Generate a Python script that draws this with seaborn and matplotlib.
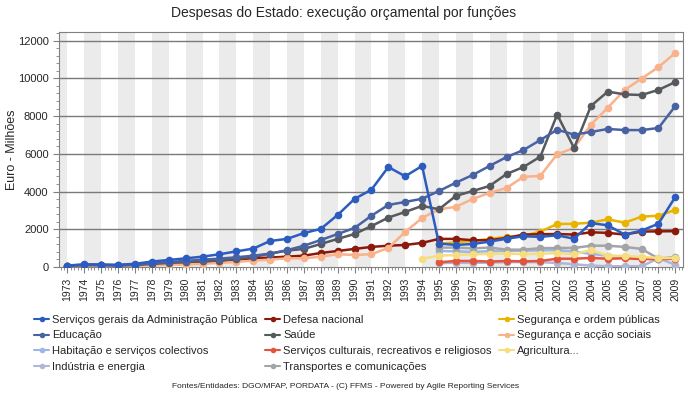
import matplotlib
matplotlib.use("Agg")
import matplotlib.pyplot as plt
from matplotlib.lines import Line2D
from matplotlib.ticker import MultipleLocator
import numpy as np
import pandas as pd
import seaborn as sns

# ===== Données =====
anos = list(range(1973, 2010))
nan = np.nan

servicos_gerais = [80, 140, 130, 120, 170, 290, 375, 460, 550, 675, 830, 975, 1380, 1490, 1800, 2020, 2760,
                   3610, 4100, 5300, 4810, 5360, 1240, 1170, 1220, 1345, 1500, 1630, 1600, 1680, 1500, 2330,
                   2210, 1720, 1930, 2300, 3720]
educacao = [70, 120, 110, 90, 130, 200, 270, 320, 390, 445, 515, 600, 710, 890, 1130, 1430, 1750,
            2070, 2720, 3290, 3450, 3620, 4030, 4470, 4880, 5360, 5830, 6200, 6730, 7280, 7020, 7160,
            7320, 7260, 7260, 7370, 8540]
habitacao = [nan] * 22 + [850, 830, 800, 840, 850, 870, 880, 890, 815, 700, 600, 520, 450, 420, 480]
industria = [nan] * 22 + [200, 230, 220, 230, 260, 260, 260, 215, 145, 75, 40, 40, 40, 460, 120]
defesa = [60, 110, 110, 80, 100, 130, 165, 200, 250, 300, 390, 460, 500, 550, 600, 745, 850,
          960, 1065, 1130, 1170, 1280, 1490, 1490, 1420, 1420, 1540, 1720, 1740, 1750, 1720, 1840,
          1810, 1720, 1880, 1890, 1900]
saude = [60, 100, 100, 80, 110, 160, 220, 270, 310, 340, 430, 535, 710, 870, 960, 1220, 1490,
         1750, 2170, 2620, 2920, 3240, 3060, 3770, 4030, 4300, 4930, 5300, 5850, 8080, 6310, 8540,
         9300, 9150, 9120, 9390, 9810]
culturais = [nan] * 22 + [250, 320, 320, 290, 320, 300, 320, 440, 440, 480, 440, 460, 420, 420, 440]
transportes = [nan] * 22 + [1030, 1030, 990, 1030, 920, 920, 1000, 1010, 1010, 1130, 1130, 1065, 960, 445, 535]
seg_ordem = [nan] * 22 + [1240, 1310, 1380, 1490, 1600, 1650, 1880, 2280, 2290, 2350, 2530, 2350, 2670, 2720, 3030]
seg_sociais = [40, 70, 70, 50, 70, 90, 120, 130, 170, 215, 270, 340, 390, 460, 460, 550, 675,
               640, 680, 1010, 1860, 2600, 3060, 3190, 3610, 3930, 4190, 4780, 4830, 5980, 6310, 7550,
               8450, 9390, 9990, 10600, 11350]
agricultura = [nan] * 21 + [440, 600, 640, 675, 690, 710, 690, 700, 745, 680, 890, 600, 590, 535, 480, 480]

series = {
    'Serviços gerais da Administração Pública': servicos_gerais,
    'Educação': educacao,
    'Habitação e serviços colectivos': habitacao,
    'Indústria e energia': industria,
    'Defesa nacional': defesa,
    'Saúde': saude,
    'Serviços culturais, recreativos e religiosos': culturais,
    'Transportes e comunicações': transportes,
    'Segurança e ordem públicas': seg_ordem,
    'Segurança e acção sociais': seg_sociais,
    'Agricultura...': agricultura,
}
couleurs = {
    'Serviços gerais da Administração Pública': '#2c5cc0',
    'Educação': '#4862a2',
    'Habitação e serviços colectivos': '#9cb6e6',
    'Indústria e energia': '#b0b6d6',
    'Defesa nacional': '#8c1a0c',
    'Saúde': '#56595e',
    'Serviços culturais, recreativos e religiosos': '#e4543c',
    'Transportes e comunicações': '#a3a4a8',
    'Segurança e ordem públicas': '#e8b400',
    'Segurança e acção sociais': '#f8b28c',
    'Agricultura...': '#f6de80',
}

donnees = pd.DataFrame([
    {'ano': a, 'valor': v, 'funcao': nom}
    for nom, vals in series.items() for a, v in zip(anos, vals)
]).dropna()

# ===== Graphe =====
sns.set_style("white")
plt.rcParams['font.family'] = ['Liberation Sans', 'DejaVu Sans']

fig = plt.figure(figsize=(6.88, 3.94), dpi=100)
ax = fig.add_axes([0.0858, 0.3223, 0.9069, 0.5965])

for a in range(1972, 2010, 2):
    ax.axvspan(a, a + 1, color='#ebebeb', lw=0, zorder=0)
for y in range(2000, 12001, 2000):
    ax.axhline(y, color='#7a7a7a', lw=1, zorder=1)

ordre = ['Indústria e energia', 'Habitação e serviços colectivos', 'Serviços culturais, recreativos e religiosos',
         'Transportes e comunicações', 'Agricultura...', 'Segurança e ordem públicas', 'Defesa nacional',
         'Segurança e acção sociais', 'Saúde', 'Educação', 'Serviços gerais da Administração Pública']
sns.lineplot(data=donnees, x='ano', y='valor', hue='funcao', hue_order=ordre, palette=couleurs,
             marker='o', markersize=5.5, markeredgewidth=0, linewidth=1.8, legend=False, ax=ax, zorder=3)

ax.set_xlim(1972.5, 2009.45)
ax.set_ylim(0, 12460)
ax.set_xticks(anos)
ax.set_xticklabels([str(a) for a in anos], rotation=90, fontsize=7.5)
ax.xaxis.set_minor_locator(MultipleLocator(0.2))
ax.set_yticks(range(0, 12001, 2000))
ax.yaxis.set_minor_locator(MultipleLocator(400))
ax.tick_params(axis='y', labelsize=8)
ax.tick_params(which='major', direction='out', length=4, color='#808080', bottom=True, left=True)
ax.tick_params(which='minor', direction='out', length=2, color='#808080', bottom=True, left=True)
ax.set_xlabel('')
ax.set_ylabel('Euro - Milhões', fontsize=9)
ax.yaxis.set_label_coords(-0.066, 0.5)
for s in ax.spines.values():
    s.set_color('#808080')

fig.suptitle('Despesas do Estado: execução orçamental por funções', fontsize=10, y=0.985)

handles = [Line2D([0], [0], color=couleurs[n], marker='o', markersize=4, markeredgewidth=0, lw=1.5)
           for n in series]
fig.legend(handles, list(series.keys()), ncol=3, loc='upper left', bbox_to_anchor=(0.042, 0.215),
           frameon=False, fontsize=8, handlelength=1.3, handletextpad=0.3, columnspacing=0.7,
           labelspacing=0.5, borderpad=0)

fig.text(0.502, 0.015, 'Fontes/Entidades: DGO/MFAP, PORDATA - (C) FFMS - Powered by Agile Reporting Services',
         ha='center', fontsize=6)

plt.savefig("out.png", dpi=100)
